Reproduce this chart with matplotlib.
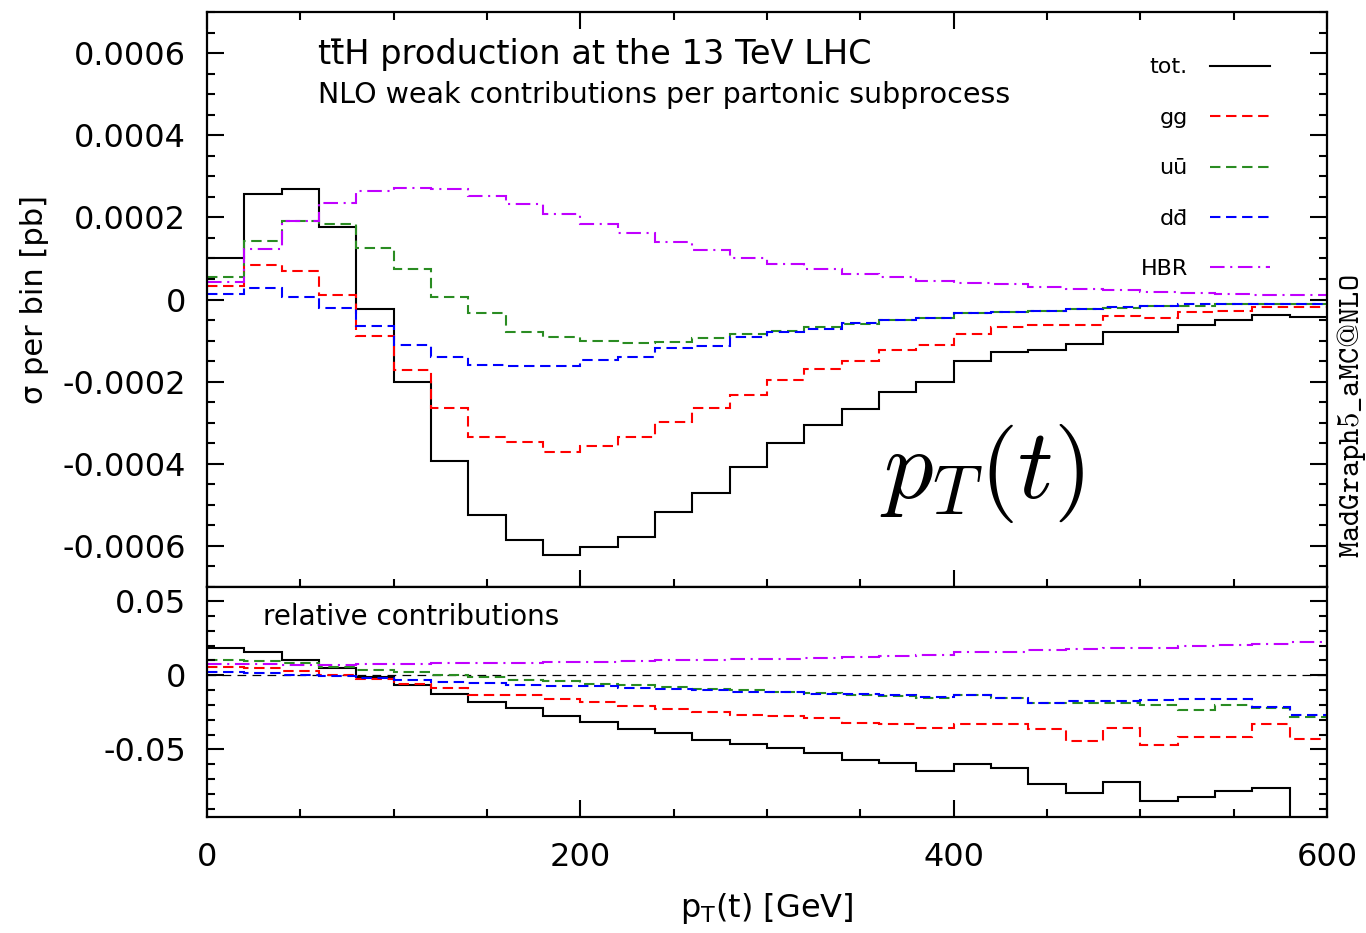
import numpy as np
import matplotlib
matplotlib.use("Agg")
import matplotlib.pyplot as plt
from matplotlib.lines import Line2D
from matplotlib.ticker import MultipleLocator, FuncFormatter

plt.rcParams["axes.unicode_minus"] = False
plt.rcParams["font.family"] = ["DejaVu Sans"]

# p_T(t) binning: 20 GeV bins from 0 to 600 GeV
bin_edges = np.arange(0, 620, 20)

# NLO weak contribution per bin [pb] (values in units of 1e-4 pb)
tot_xsec = np.array([1.01, 2.56, 2.68, 1.76, -0.23, -2.02, -3.93, -5.24, -5.85, -6.22,
                     -6.03, -5.78, -5.17, -4.70, -4.09, -3.50, -3.05, -2.67, -2.26, -2.02,
                     -1.49, -1.27, -1.22, -1.09, -0.80, -0.80, -0.61, -0.49, -0.37, -0.43]) * 1e-4
gg_xsec = np.array([0.32, 0.83, 0.69, 0.11, -0.88, -1.71, -2.63, -3.35, -3.48, -3.71,
                    -3.56, -3.34, -2.99, -2.63, -2.33, -1.97, -1.69, -1.50, -1.24, -1.11,
                    -0.83, -0.67, -0.61, -0.61, -0.41, -0.46, -0.31, -0.27, -0.19, -0.19]) * 1e-4
uu_xsec = np.array([0.54, 1.43, 1.90, 1.85, 1.26, 0.75, 0.06, -0.33, -0.78, -0.92,
                    -1.00, -1.06, -1.03, -0.94, -0.84, -0.76, -0.67, -0.59, -0.50, -0.45,
                    -0.33, -0.31, -0.29, -0.24, -0.20, -0.17, -0.15, -0.11, -0.12, -0.12]) * 1e-4
dd_xsec = np.array([0.14, 0.28, 0.07, -0.21, -0.65, -1.10, -1.41, -1.59, -1.63, -1.62,
                    -1.47, -1.39, -1.18, -1.14, -0.92, -0.78, -0.71, -0.58, -0.51, -0.46,
                    -0.33, -0.31, -0.29, -0.22, -0.18, -0.16, -0.11, -0.10, -0.11, -0.11]) * 1e-4
hbr_xsec = np.array([0.42, 1.22, 1.90, 2.36, 2.63, 2.72, 2.68, 2.52, 2.32, 2.09,
                     1.85, 1.62, 1.40, 1.20, 1.02, 0.87, 0.75, 0.63, 0.54, 0.45,
                     0.41, 0.38, 0.30, 0.26, 0.24, 0.18, 0.15, 0.14, 0.11, 0.10]) * 1e-4

# Relative contributions (ratio to LO)
tot_rel = np.array([0.0182, 0.0160, 0.0106, 0.0052, -0.0011, -0.0065, -0.0124, -0.0178, -0.0223, -0.0273,
                    -0.0315, -0.0360, -0.0392, -0.0437, -0.0464, -0.0491, -0.0525, -0.0568, -0.0590, -0.0647,
                    -0.0595, -0.0628, -0.0730, -0.0793, -0.0718, -0.0845, -0.0820, -0.0779, -0.0761, -0.1050])
gg_rel = np.array([0.0059, 0.0052, 0.0029, 0.0002, -0.0023, -0.0056, -0.0086, -0.0131, -0.0131, -0.0158,
                   -0.0182, -0.0209, -0.0225, -0.0245, -0.0268, -0.0275, -0.0291, -0.0320, -0.0331, -0.0354,
                   -0.0331, -0.0331, -0.0365, -0.0444, -0.0354, -0.0471, -0.0417, -0.0417, -0.0331, -0.0432])
uu_rel = np.array([0.0101, 0.0095, 0.0085, 0.0059, 0.0036, 0.0025, 0.0000, -0.0009, -0.0032, -0.0038,
                   -0.0061, -0.0068, -0.0079, -0.0090, -0.0099, -0.0110, -0.0122, -0.0133, -0.0140, -0.0151,
                   -0.0135, -0.0151, -0.0189, -0.0185, -0.0189, -0.0200, -0.0234, -0.0200, -0.0223, -0.0282])
dd_rel = np.array([0.0025, 0.0014, 0.0000, -0.0005, -0.0016, -0.0032, -0.0045, -0.0054, -0.0065, -0.0072,
                   -0.0072, -0.0088, -0.0090, -0.0101, -0.0110, -0.0113, -0.0128, -0.0124, -0.0133, -0.0144,
                   -0.0131, -0.0153, -0.0185, -0.0173, -0.0173, -0.0167, -0.0162, -0.0158, -0.0212, -0.0270])
hbr_rel = np.array([0.0074, 0.0074, 0.0068, 0.0068, 0.0074, 0.0074, 0.0081, 0.0081, 0.0086, 0.0090,
                    0.0092, 0.0097, 0.0101, 0.0103, 0.0108, 0.0113, 0.0119, 0.0124, 0.0131, 0.0137,
                    0.0158, 0.0160, 0.0169, 0.0176, 0.0187, 0.0187, 0.0198, 0.0205, 0.0214, 0.0225])

MACRON = "\u0304"
legend_labels = ["tot.", "gg", "u\u016b", "dd" + MACRON, "HBR"]

LW = 1.5
styles = [
    dict(color="black", linestyle="-"),
    dict(color="#ff0000", linestyle=(0, (5, 2.7))),
    dict(color="#2a8c22", linestyle=(0, (5, 2.7))),
    dict(color="#0000ff", linestyle=(0, (5, 2.7))),
    dict(color="#c000ff", linestyle=(0, (7, 2.7, 1, 2.7))),
]

fig = plt.figure(figsize=(13.66, 9.33), dpi=100)
W, H = 1366.0, 933.0
left, right = 207 / W, 1327 / W
ax1 = fig.add_axes([left, 1 - 587 / H, right - left, (587 - 12) / H])
ax2 = fig.add_axes([left, 1 - 817 / H, right - left, (817 - 587) / H])

for vals, st in zip([tot_xsec, gg_xsec, uu_xsec, dd_xsec, hbr_xsec], styles):
    ax1.stairs(vals, bin_edges, baseline=None, linewidth=LW, **st)
for vals, st in zip([tot_rel, gg_rel, uu_rel, dd_rel, hbr_rel], styles):
    ax2.stairs(vals, bin_edges, baseline=None, linewidth=LW, **st)
ax2.axhline(0, color="black", linewidth=0.9, linestyle=(0, (7, 5)), zorder=0.5)

ax1.set_xlim(0, 600)
ax2.set_xlim(0, 600)
ax1.set_ylim(-0.0007, 0.0007)
ax2.set_ylim(-0.0955, 0.0595)

for ax in (ax1, ax2):
    ax.xaxis.set_major_locator(MultipleLocator(200))
    ax.xaxis.set_minor_locator(MultipleLocator(50))
    for sp in ax.spines.values():
        sp.set_linewidth(1.6)
    ax.tick_params(which="both", direction="in", right=True, width=1.5,
                   labelsize=23, colors="black")
    ax.tick_params(which="major", length=12)
    ax.tick_params(which="minor", length=5.5)
    ax.tick_params(axis="y", pad=15)
    ax.tick_params(axis="x", pad=18)

ax1.tick_params(which="both", top=True, labelbottom=False)
ax2.tick_params(which="both", top=False)

ax1.yaxis.set_major_locator(MultipleLocator(0.0002))
ax1.yaxis.set_minor_locator(MultipleLocator(0.00005))
ax1.yaxis.set_major_formatter(FuncFormatter(lambda v, p: "0" if abs(v) < 1e-12 else f"{v:.4f}"))
ax2.yaxis.set_major_locator(MultipleLocator(0.05))
ax2.yaxis.set_minor_locator(MultipleLocator(0.01))
ax2.yaxis.set_major_formatter(FuncFormatter(lambda v, p: "0" if abs(v) < 1e-12 else f"{v:.2f}"))
ax2.xaxis.set_major_formatter(FuncFormatter(lambda v, p: f"{v:.0f}"))

# Legend: label on the left, line sample on the right
handles = [Line2D([], [], linewidth=LW, **st) for st in styles]
ax1.legend(handles, legend_labels, loc="upper right", bbox_to_anchor=(0.949, 0.921),
           markerfirst=False, frameon=False, fontsize=16, handlelength=2.7,
           handletextpad=1.0, labelspacing=1.37, borderpad=0, borderaxespad=0)

ax1.text(0.099, 0.909, "tt" + MACRON + "H production at the 13 TeV LHC",
         transform=ax1.transAxes, fontsize=24.2, va="baseline", ha="left")
ax1.text(0.099, 0.841, "NLO weak contributions per partonic subprocess",
         transform=ax1.transAxes, fontsize=20.5, va="baseline", ha="left")
ax1.text(0.601, 0.155, r"$p_T(t)$", transform=ax1.transAxes, fontsize=71,
         va="baseline", ha="left", math_fontfamily="cm")

ax2.text(0.05, 0.835, "relative contributions", transform=ax2.transAxes,
         fontsize=20, va="baseline", ha="left")

fig.text(35 / W, 1 - 300 / H, "\u03c3 per bin [pb]", rotation=90,
         ha="center", va="center", fontsize=22)
fig.text(767 / W, 1 - 917 / H, r"p$_{\rm T}$(t) [GeV]", ha="center",
         va="baseline", fontsize=23)
fig.text(1352 / W, 1 - 416 / H, r"$\mathtt{MadGraph5\_aMC@NLO}$", rotation=90,
         ha="center", va="center", fontsize=22.3, math_fontfamily="cm")

fig.savefig("out.png", dpi=100)
